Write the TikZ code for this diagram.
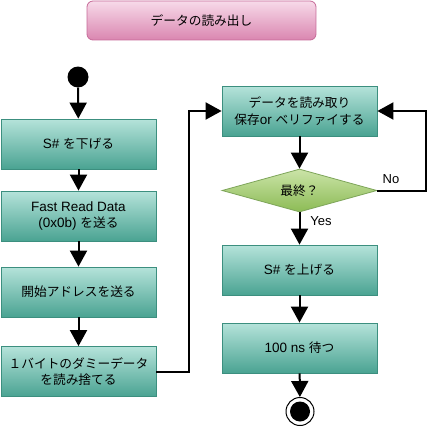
\documentclass[tikz,border=0pt]{standalone}
\usepackage{fontspec}
\setmainfont{Liberation Sans}
\newfontfamily\jpf{Noto Sans CJK JP}
\newcommand\J[1]{{\jpf\fontsize{12.7}{16.5}\selectfont #1}}
\usetikzlibrary{arrows.meta,shapes.geometric}
\definecolor{pinktop}{HTML}{F7DAE9}
\definecolor{pinkbot}{HTML}{DA86B0}
\definecolor{pinkline}{HTML}{C66A98}
\definecolor{boxtop}{HTML}{B5E3DA}
\definecolor{boxbot}{HTML}{4AA392}
\definecolor{boxline}{HTML}{3C8F7F}
\definecolor{dtop}{HTML}{CBE4A8}
\definecolor{dbot}{HTML}{8CBB55}
\definecolor{dline}{HTML}{7EA55A}
\tikzset{
  txt/.style={font=\fontsize{13.5}{16.5}\selectfont, align=center, text=black},
  titlebox/.style={txt, rectangle, rounded corners=6pt, draw=pinkline, line width=0.8pt,
    top color=pinktop, bottom color=pinkbot, minimum width=229pt, minimum height=39pt, inner sep=0pt},
  stepbox/.style={txt, rectangle, draw=boxline, line width=0.8pt, top color=boxtop, bottom color=boxbot,
    minimum width=155pt, minimum height=50pt, inner sep=0pt},
  decide/.style={txt, diamond, aspect=3.6, draw=dline, line width=0.8pt, top color=dtop, bottom color=dbot,
    minimum width=155pt, minimum height=43pt, inner sep=0pt},
  arr/.style={line width=2pt, -{Triangle[width=17pt,length=16pt]}},
  lbl/.style={font=\fontsize{13}{14}\selectfont, text=black, inner sep=0pt}
}
\begin{document}
\begin{tikzpicture}[x=1pt,y=-1pt]
\useasboundingbox (0,0) rectangle (428,428);
\node[titlebox] (title) at (201.5,20.5) {\J{データの読み出し}};
\node[circle, fill=black, minimum size=21pt, inner sep=0pt] (start) at (78,77) {};
\node[stepbox] (b1) at (78.5,144) {S\# \J{を下げる}};
\node[stepbox] (b2) at (78.5,216) {Fast Read Data\\(0x0b) \J{を送る}};
\node[stepbox] (b3) at (78.5,292) {\J{開始アドレスを送る}};
\node[stepbox] (b4) at (78.5,371.5) {\J{１バイトのダミーデータ}\\\J{を読み捨てる}};
\node[stepbox] (b5) at (299.5,111) {\J{データを読み取り}\\\J{保存}or \J{ベリファイする}};
\node[decide] (d) at (299.5,190.5) {\J{最終？}};
\node[stepbox] (b6) at (299.5,270) {S\# \J{を上げる}};
\node[stepbox] (b7) at (299.5,348) {100 ns \J{待つ}};
\node[circle, draw=black, line width=1pt, fill=white, minimum size=28pt, inner sep=0pt] (end) at (300,411.5) {};
\fill[black] (end.center) circle (10pt);
\coordinate (j1) at (189,371.5);
\coordinate (j2) at (426,190.5);
\draw[arr] (start) -- (b1);
\draw[arr] (b1) -- (b2);
\draw[arr] (b2) -- (b3);
\draw[arr] (b3) -- (b4);
\draw[arr] (b4.east) -- (j1) |- (b5.west);
\draw[arr] (b5) -- (d);
\draw[arr] (d.east) -- (j2) |- (b5.east);
\draw[arr] (d) -- (b6);
\draw[arr] (b6) -- (b7);
\draw[arr] (b7) -- (end);
\node[lbl] (no) at (391,179) {No};
\node[lbl] (yes) at (321,221.5) {Yes};
\end{tikzpicture}
\end{document}
